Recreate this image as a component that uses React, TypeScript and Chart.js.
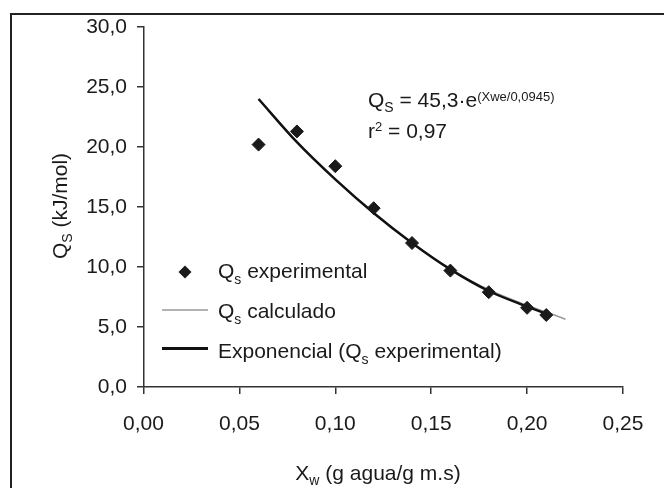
import React, { useEffect, useRef } from 'react';
import { Chart, registerables } from 'chart.js';

Chart.register(...registerables);

const xExperimental = [0.06, 0.08, 0.10, 0.12, 0.14, 0.16, 0.18, 0.20, 0.21];
const qsExperimental = [20.2, 21.3, 18.4, 14.9, 12.0, 9.7, 7.9, 6.6, 6.0];

const xExponential = [0.06, 0.08, 0.10, 0.12, 0.14, 0.16, 0.18, 0.20, 0.21];
const qsExponential = [24.0, 20.4, 17.3, 14.5, 12.0, 9.8, 8.0, 6.7, 6.1];

const xCalculated = [0.06, 0.08, 0.10, 0.12, 0.14, 0.16, 0.18, 0.20, 0.21, 0.22];
const qsCalculated = [24.0, 20.4, 17.3, 14.5, 12.0, 9.85, 8.1, 6.8, 6.25, 5.65];

const xTickLabels = ['0,00', '0,05', '0,10', '0,15', '0,20', '0,25'];
const yTickLabels = ['0,0', '5,0', '10,0', '15,0', '20,0', '25,0', '30,0'];

const FONT = '"Liberation Sans", Arial, Helvetica, sans-serif';
const TEXT = '#1a1a1a';

type Part = { t: string; size: number; dy: number };

function partsWidth(ctx: CanvasRenderingContext2D, parts: Part[]) {
  let w = 0;
  for (const p of parts) {
    ctx.font = `${p.size}px ${FONT}`;
    w += ctx.measureText(p.t).width;
  }
  return w;
}

function drawParts(ctx: CanvasRenderingContext2D, parts: Part[], x: number, y: number, align: 'left' | 'center') {
  let cx = x;
  if (align === 'center') cx = x - partsWidth(ctx, parts) / 2;
  ctx.textAlign = 'left';
  ctx.textBaseline = 'alphabetic';
  ctx.fillStyle = TEXT;
  for (const p of parts) {
    ctx.font = `${p.size}px ${FONT}`;
    ctx.fillText(p.t, cx, y + p.dy);
    cx += ctx.measureText(p.t).width;
  }
}

const decorPlugin = {
  id: 'decor',
  beforeDraw(chart: any) {
    const ctx = chart.ctx as CanvasRenderingContext2D;
    ctx.save();
    ctx.fillStyle = '#ffffff';
    ctx.fillRect(0, 0, chart.width, chart.height);
    ctx.strokeStyle = '#222222';
    ctx.lineWidth = 2;
    ctx.beginPath();
    ctx.moveTo(11, chart.height);
    ctx.lineTo(11, 14);
    ctx.lineTo(chart.width, 14);
    ctx.stroke();
    ctx.restore();
  },
  afterDraw(chart: any) {
    const ctx = chart.ctx as CanvasRenderingContext2D;
    ctx.save();

    // Y axis title (rotated)
    ctx.save();
    ctx.translate(67, 206);
    ctx.rotate(-Math.PI / 2);
    drawParts(ctx, [
      { t: 'Q', size: 21, dy: 0 },
      { t: 'S', size: 14, dy: 5 },
      { t: ' (kJ/mol)', size: 21, dy: 0 },
    ], 0, 0, 'center');
    ctx.restore();

    // X axis title
    drawParts(ctx, [
      { t: 'X', size: 21, dy: 0 },
      { t: 'w', size: 14, dy: 5 },
      { t: ' (g agua/g m.s)', size: 21, dy: 0 },
    ], 378, 480, 'center');

    // Equation
    drawParts(ctx, [
      { t: 'Q', size: 21, dy: 0 },
      { t: 'S', size: 14, dy: 5 },
      { t: ' = 45,3·e', size: 21, dy: 0 },
      { t: '(Xwe/0,0945)', size: 13, dy: -6 },
    ], 368, 107, 'left');
    drawParts(ctx, [
      { t: 'r', size: 21, dy: 0 },
      { t: '2', size: 13, dy: -7 },
      { t: ' = 0,97', size: 21, dy: 0 },
    ], 368, 138, 'left');

    // Legend
    ctx.fillStyle = '#1a1a1a';
    ctx.beginPath();
    const dx = 185, dyc = 272, r = 6.5;
    ctx.moveTo(dx - r, dyc);
    ctx.lineTo(dx, dyc - r);
    ctx.lineTo(dx + r, dyc);
    ctx.lineTo(dx, dyc + r);
    ctx.closePath();
    ctx.fill();

    ctx.strokeStyle = '#9a9a9a';
    ctx.lineWidth = 1.5;
    ctx.beginPath();
    ctx.moveTo(162, 310);
    ctx.lineTo(208, 310);
    ctx.stroke();

    ctx.strokeStyle = '#111111';
    ctx.lineWidth = 3;
    ctx.beginPath();
    ctx.moveTo(162, 348.5);
    ctx.lineTo(208, 348.5);
    ctx.stroke();

    drawParts(ctx, [
      { t: 'Q', size: 21, dy: 0 },
      { t: 's', size: 14, dy: 6 },
      { t: ' experimental', size: 21, dy: 0 },
    ], 218, 278, 'left');
    drawParts(ctx, [
      { t: 'Q', size: 21, dy: 0 },
      { t: 's', size: 14, dy: 6 },
      { t: ' calculado', size: 21, dy: 0 },
    ], 218, 318, 'left');
    drawParts(ctx, [
      { t: 'Exponencial (Q', size: 21, dy: 0 },
      { t: 's', size: 14, dy: 6 },
      { t: ' experimental)', size: 21, dy: 0 },
    ], 218, 358, 'left');

    ctx.restore();
  },
};

export default function App() {
  const ref = useRef<HTMLCanvasElement>(null);

  useEffect(() => {
    if (!ref.current) return;
    const chart = new Chart(ref.current, {
      type: 'scatter',
      data: {
        datasets: [
          {
            label: 'Qs experimental',
            data: xExperimental.map((x, i) => ({ x, y: qsExperimental[i] })),
            pointStyle: 'rectRot',
            pointRadius: 6.5,
            backgroundColor: '#1a1a1a',
            borderColor: '#1a1a1a',
            borderWidth: 1,
            showLine: false,
          },
          {
            label: 'Exponencial (Qs experimental)',
            data: xExponential.map((x, i) => ({ x, y: qsExponential[i] })),
            showLine: true,
            pointRadius: 0,
            borderColor: '#111111',
            borderWidth: 2.5,
            cubicInterpolationMode: 'monotone',
            fill: false,
          },
          {
            label: 'Qs calculado',
            data: xCalculated.map((x, i) => ({ x, y: qsCalculated[i] })),
            showLine: true,
            pointRadius: 0,
            borderColor: '#9a9a9a',
            borderWidth: 1.5,
            cubicInterpolationMode: 'monotone',
            fill: false,
          },
        ],
      } as any,
      options: {
        responsive: false,
        animation: false,
        layout: { padding: { top: 27, right: 41, left: 0, bottom: 0 } },
        plugins: { legend: { display: false }, tooltip: { enabled: false } },
        scales: {
          x: {
            type: 'linear',
            min: 0,
            max: 0.25,
            afterFit: (s: any) => { s.height = 101; },
            ticks: {
              stepSize: 0.05,
              autoSkip: false,
              maxRotation: 0,
              padding: 18,
              color: TEXT,
              font: { family: FONT, size: 21 },
              callback: (v: any) => xTickLabels[Math.round(Number(v) / 0.05)],
            },
            grid: { drawOnChartArea: false, drawTicks: true, tickLength: 7, color: '#333333', lineWidth: 1.5 },
            border: { display: true, color: '#333333', width: 1.5 },
          },
          y: {
            type: 'linear',
            min: 0,
            max: 30,
            afterFit: (s: any) => { s.width = 143.5; },
            ticks: {
              stepSize: 5,
              autoSkip: false,
              padding: 10,
              color: TEXT,
              font: { family: FONT, size: 21 },
              callback: (v: any) => yTickLabels[Math.round(Number(v) / 5)],
            },
            grid: { drawOnChartArea: false, drawTicks: true, tickLength: 6.5, color: '#333333', lineWidth: 1.5 },
            border: { display: true, color: '#333333', width: 1.5 },
          },
        },
      } as any,
      plugins: [decorPlugin],
    });
    return () => chart.destroy();
  }, []);

  return (
    <div style={{ position: 'fixed', left: 0, top: 0, width: 664, height: 488, background: '#fff' }}>
      <canvas ref={ref} width={664} height={488} style={{ width: 664, height: 488, display: 'block' }} />
    </div>
  );
}
